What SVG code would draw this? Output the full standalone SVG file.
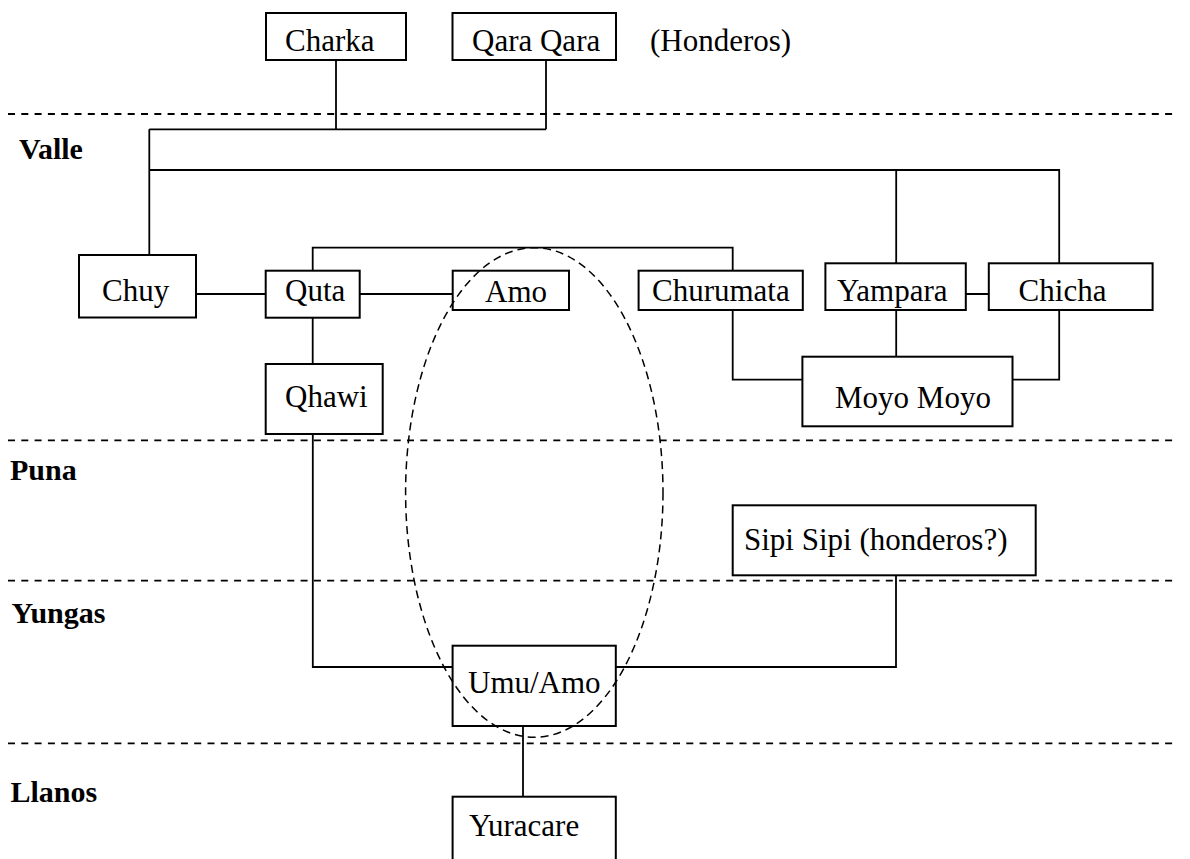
<svg xmlns="http://www.w3.org/2000/svg" width="1190" height="859" viewBox="0 0 1190 859">
<style>
.box{fill:#fff;stroke:#000;stroke-width:2}
.lbl{font-family:"Liberation Serif","Times New Roman",serif;font-size:31px;fill:#000}
.zone{font-family:"Liberation Serif","Times New Roman",serif;font-size:30px;font-weight:bold;fill:#000}
.conn{fill:none;stroke:#000;stroke-width:1.8}
.sep{stroke:#000;stroke-width:1.8;stroke-dasharray:7 6.3}
.oval{fill:none;stroke:#000;stroke-width:1.5;stroke-dasharray:8 5}
</style>
<rect width="1190" height="859" fill="#fff"/>
<g id="zones">
<line class="sep" x1="8" y1="114" x2="1173" y2="114"/>
<line class="sep" x1="8" y1="440.3" x2="1173" y2="440.3"/>
<line class="sep" x1="8" y1="580.7" x2="1173" y2="580.7"/>
<line class="sep" x1="8" y1="743.3" x2="1173" y2="743.3"/>
<text class="zone" x="19" y="159">Valle</text>
<text class="zone" x="10" y="480">Puna</text>
<text class="zone" x="11.5" y="622.7">Yungas</text>
<text class="zone" x="10.5" y="801.7">Llanos</text>
</g>
<g id="connectors">
<path class="conn" d="M336,60 V129.3 M546,60 V129.3 M149.3,129.3 H546 M149.3,129.3 V255"/>
<path class="conn" d="M149.3,170 H1059.2 V263.3 M896.2,170 V263.3"/>
<path class="conn" d="M196,294 H265.7 M359.7,294 H452.7"/>
<path class="conn" d="M312.7,270.7 V247.7 H732.7 V270.7"/>
<path class="conn" d="M312.7,317.7 V364"/>
<path class="conn" d="M965.8,294 H988.8 M896.2,310 V356.7"/>
<path class="conn" d="M732.7,310 V379.7 H802.4 M1059.2,310 V379.7 H1012.5"/>
<path class="conn" d="M312.8,434 V667 H452.6 M896,575.3 V667 H615.8"/>
<path class="conn" d="M523,726 V796.7"/>
</g>
<g id="charka"><rect class="box" x="266" y="13" width="140" height="47"/><text class="lbl" x="285" y="51">Charka</text></g>
<g id="qaraqara"><rect class="box" x="452.5" y="13" width="163.5" height="47"/><text class="lbl" x="472" y="51">Qara Qara</text></g>
<g id="honderos"><text class="lbl" x="650" y="51">(Honderos)</text></g>
<g id="chuy"><rect class="box" x="79" y="255" width="117" height="62.5"/><text class="lbl" x="102" y="301">Chuy</text></g>
<g id="quta"><rect class="box" x="265.7" y="270.7" width="94" height="47"/><text class="lbl" x="285" y="301">Quta</text></g>
<g id="amo"><rect class="box" x="452.7" y="270.7" width="116.3" height="39.3"/><text class="lbl" x="485" y="301.5">Amo</text></g>
<g id="churumata"><rect class="box" x="638.6" y="270.7" width="164.2" height="39.3"/><text class="lbl" x="652" y="300.7">Churumata</text></g>
<g id="yampara"><rect class="box" x="825.4" y="263.3" width="140.4" height="46.7"/><text class="lbl" x="837" y="300.7">Yampara</text></g>
<g id="chicha"><rect class="box" x="988.8" y="263.3" width="163.8" height="46.7"/><text class="lbl" x="1018.6" y="300.7">Chicha</text></g>
<g id="moyomoyo"><rect class="box" x="802.4" y="356.7" width="210.1" height="69.6"/><text class="lbl" x="835" y="408">Moyo Moyo</text></g>
<g id="qhawi"><rect class="box" x="265.7" y="364" width="117" height="70"/><text class="lbl" x="285" y="406.7">Qhawi</text></g>
<g id="sipisipi"><rect class="box" x="732.7" y="505.3" width="303" height="70"/><text class="lbl" x="744" y="550">Sipi Sipi (honderos?)</text></g>
<g id="umuamo"><rect class="box" x="452.6" y="645.7" width="163.2" height="80.3"/><text class="lbl" x="468" y="693">Umu/Amo</text></g>
<g id="yuracare"><rect class="box" x="452.6" y="796.7" width="163.2" height="75"/><text class="lbl" x="469" y="836">Yuracare</text></g>
<g id="grouping">
<ellipse class="oval" cx="534.3" cy="492.5" rx="128.7" ry="244.8"/>
</g>
</svg>
